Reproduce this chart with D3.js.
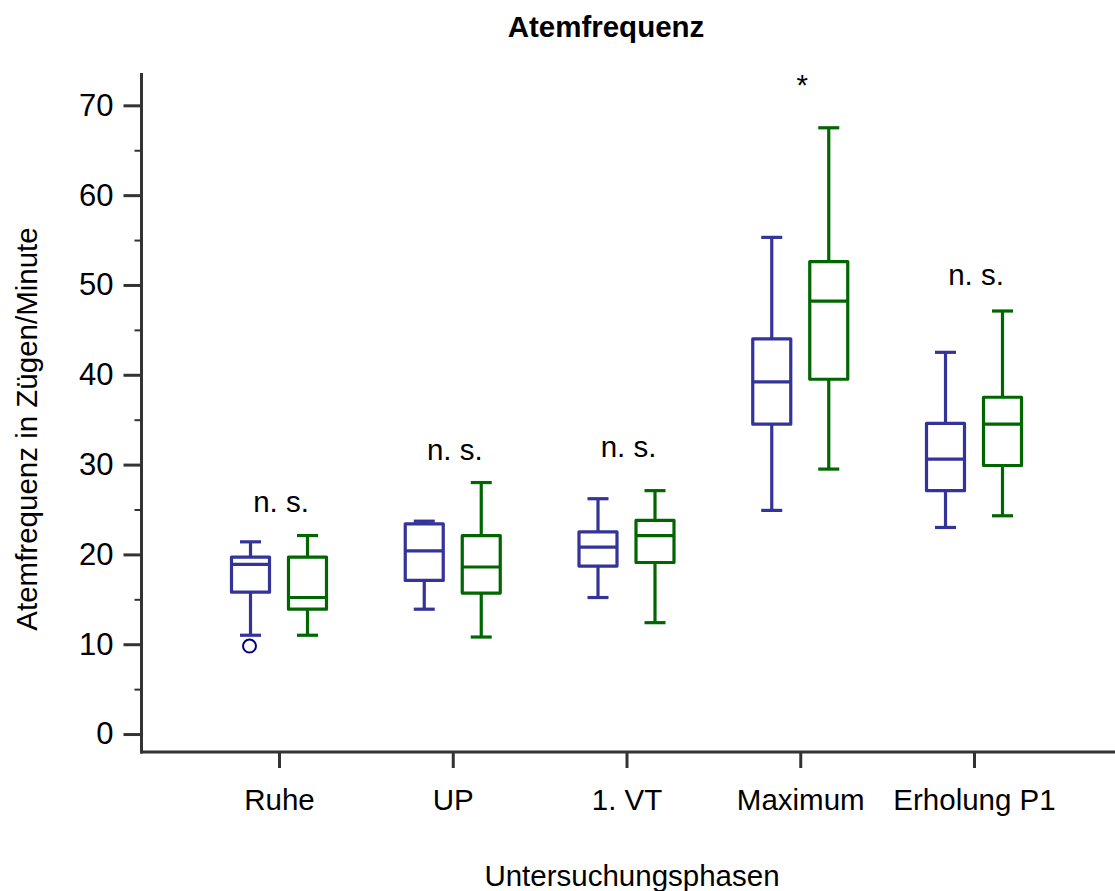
<!DOCTYPE html>
<html>
<head>
<meta charset="utf-8">
<script src="https://cdn.jsdelivr.net/npm/d3@7"></script>
<style>
  html, body { margin: 0; padding: 0; background: #fff; }
  text { font-family: "Liberation Sans", Arial, sans-serif; fill: #000; }
</style>
</head>
<body>
<svg id="chart" width="1115" height="891"></svg>
<script>
// ---------- data ----------
const categories = ["Ruhe", "UP", "1. VT", "Maximum", "Erholung P1"];
const groups = ["A", "B"];

// group A (blue)
const lowA  = [11.0, 13.9, 15.2, 24.9, 23.0];
const q1A   = [15.8, 17.1, 18.7, 34.5, 27.1];
const medA  = [18.9, 20.4, 20.8, 39.2, 30.6];
const q3A   = [19.7, 23.4, 22.5, 44.0, 34.6];
const highA = [21.4, 23.7, 26.2, 55.3, 42.5];

// group B (green)
const lowB  = [11.0, 10.8, 12.4, 29.5, 24.3];
const q1B   = [13.9, 15.7, 19.1, 39.5, 29.9];
const medB  = [15.2, 18.6, 22.1, 48.2, 34.5];
const q3B   = [19.7, 22.1, 23.8, 52.6, 37.5];
const highB = [22.1, 28.0, 27.1, 67.5, 47.1];

// outliers
const outlierCategory = ["Ruhe"];
const outlierGroup    = ["A"];
const outlierValue    = [9.8];

// significance annotations
const annotLabels = ["n. s.", "n. s.", "n. s.", "*", "n. s."];
const annotValues = [24.7, 30.5, 30.9, 71.1, 50.0];

const yTicks = [0, 10, 20, 30, 40, 50, 60, 70];
const yMinorTicks = [5, 15, 25, 35, 45, 55, 65];

// ---------- layout ----------
const W = 1115, H = 891;
const axisX = 141.5, axisY = 752;
const colors = { A: "#333399", B: "#006600" };
const outlierColor = "#000080";
const axisColor = "#333333";

const svg = d3.select("#chart");

const y = d3.scaleLinear().domain([-2, 73.6]).range([axisY, 73]);
const x = d3.scalePoint().domain(categories).range([279, 974]);
const xg = d3.scalePoint().domain(groups).range([-28.5, 28.5]);

const boxW = 38, capW = 21, lw = 3.2;

// build box records
const boxes = [];
categories.forEach((c, i) => {
  boxes.push({ cat: c, g: "A", low: lowA[i], q1: q1A[i], med: medA[i], q3: q3A[i], high: highA[i] });
  boxes.push({ cat: c, g: "B", low: lowB[i], q1: q1B[i], med: medB[i], q3: q3B[i], high: highB[i] });
});

// ---------- axes ----------
const yAxis = d3.axisLeft(y).tickValues(yTicks).tickSize(18).tickPadding(10).tickSizeOuter(0);
const gy = svg.append("g").attr("transform", `translate(${axisX},0)`).call(yAxis);
gy.select(".domain").remove();
gy.selectAll(".tick line").attr("stroke", axisColor).attr("stroke-width", 3);
gy.selectAll(".tick text").style("font-size", "31px").attr("fill", "#000");

const yMinor = d3.axisLeft(y).tickValues(yMinorTicks).tickSize(7).tickFormat("").tickSizeOuter(0);
const gym = svg.append("g").attr("transform", `translate(${axisX},0)`).call(yMinor);
gym.select(".domain").remove();
gym.selectAll(".tick line").attr("stroke", axisColor).attr("stroke-width", 2);

const xAxis = d3.axisBottom(x).tickSize(16).tickSizeOuter(0);
const gx = svg.append("g").attr("transform", `translate(0,${axisY})`).call(xAxis);
gx.select(".domain").remove();
gx.selectAll(".tick line").attr("stroke", axisColor).attr("stroke-width", 3);
gx.selectAll(".tick text").style("font-size", "29.5px").attr("y", 58).attr("dy", 0).attr("fill", "#000");

// axis lines
svg.append("line")
  .attr("x1", axisX).attr("x2", axisX)
  .attr("y1", y.range()[1]).attr("y2", axisY + 1.5)
  .attr("stroke", axisColor).attr("stroke-width", 3);
svg.append("line")
  .attr("x1", axisX - 1.5).attr("x2", W)
  .attr("y1", axisY).attr("y2", axisY)
  .attr("stroke", axisColor).attr("stroke-width", 3);

// ---------- boxes ----------
const bg = svg.append("g");
boxes.forEach(b => {
  const cx = x(b.cat) + xg(b.g);
  const col = colors[b.g];
  const g = bg.append("g").attr("stroke", col).attr("stroke-width", lw).attr("fill", "none");
  g.append("line").attr("x1", cx).attr("x2", cx).attr("y1", y(b.q3)).attr("y2", y(b.high));
  g.append("line").attr("x1", cx).attr("x2", cx).attr("y1", y(b.q1)).attr("y2", y(b.low));
  g.append("line").attr("x1", cx - capW / 2).attr("x2", cx + capW / 2).attr("y1", y(b.high)).attr("y2", y(b.high));
  g.append("line").attr("x1", cx - capW / 2).attr("x2", cx + capW / 2).attr("y1", y(b.low)).attr("y2", y(b.low));
  g.append("rect")
    .attr("x", cx - boxW / 2).attr("width", boxW)
    .attr("y", y(b.q3)).attr("height", y(b.q1) - y(b.q3))
    .attr("fill", "#fff").attr("stroke-linejoin", "round");
  g.append("line").attr("x1", cx - boxW / 2).attr("x2", cx + boxW / 2).attr("y1", y(b.med)).attr("y2", y(b.med));
});

// outliers
outlierValue.forEach((v, i) => {
  svg.append("circle")
    .attr("cx", x(outlierCategory[i]) + xg(outlierGroup[i]) - 1)
    .attr("cy", y(v))
    .attr("r", 6.5)
    .attr("fill", "none")
    .attr("stroke", outlierColor)
    .attr("stroke-width", 2);
});

// annotations
categories.forEach((c, i) => {
  svg.append("text")
    .attr("x", x(c) + 2)
    .attr("y", y(annotValues[i]))
    .attr("text-anchor", "middle")
    .style("font-size", "29.5px")
    .text(annotLabels[i]);
});

// ---------- titles ----------
svg.append("text")
  .attr("x", 606).attr("y", 37)
  .attr("text-anchor", "middle")
  .style("font-size", "29.5px").style("font-weight", "bold")
  .text("Atemfrequenz");

svg.append("text")
  .attr("x", 632).attr("y", 886)
  .attr("text-anchor", "middle")
  .style("font-size", "29.5px")
  .text("Untersuchungsphasen");

svg.append("text")
  .attr("transform", "translate(37,429) rotate(-90)")
  .attr("text-anchor", "middle")
  .style("font-size", "29.5px")
  .text("Atemfrequenz in Zügen/Minute");
</script>
</body>
</html>
